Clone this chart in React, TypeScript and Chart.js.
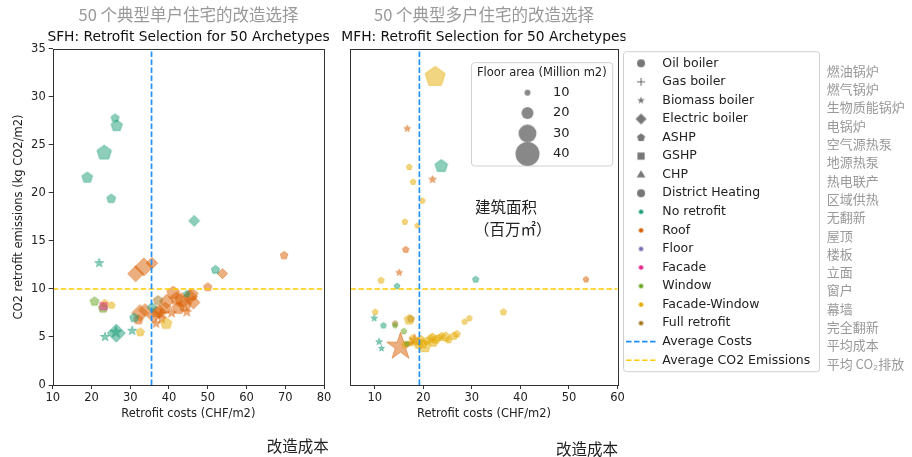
import React, { useEffect, useRef } from "react";
import { Chart, registerables } from "chart.js";

Chart.register(...registerables);

// ---------------- data ----------------
const heatingTypes = ["Oil boiler", "Gas boiler", "Biomass boiler", "Electric boiler", "ASHP", "GSHP", "CHP", "District Heating"];
const retrofitTypes = ["No retrofit", "Roof", "Floor", "Facade", "Window", "Facade-Window", "Full retrofit"];
const legendZh = ["燃油锅炉", "燃气锅炉", "生物质能锅炉", "电锅炉", "空气源热泵", "地源热泵", "热电联产", "区域供热", "无翻新", "屋顶", "楼板", "立面", "窗户", "幕墙", "完全翻新", "平均成本", "平均 CO₂排放"];
const sizeLegendValues = [10, 20, 30, 40];

// heating codes: OB Oil, GB Gas, BM Biomass, EB Electric, ASHP, GSHP, CHP, DH
// retrofit codes: N none, R roof, FL floor, F facade, W window, FW facade-window, FR full
const sfhCost = [26.1, 26.5, 23.3, 18.9, 25.1, 46.5, 22.0, 31.4, 33.5, 35.6, 52.0, 53.8, 69.7, 50.0, 20.8, 23.0, 25.2, 23.4, 23.1, 23.5, 26.4, 26.3, 30.5, 32.6, 39.3, 31.0, 32.5, 32.1, 35.6, 37.2, 36.7, 38.1, 36.0, 39.4, 41.1, 43.3, 45.4, 44.1, 42.4, 40.7, 33.8, 36.7, 44.6, 45.9, 44.6, 39.0, 42.0, 46.3, 38.2, 37.5];
const sfhCo2 = [27.8, 27.0, 24.2, 21.6, 19.4, 17.1, 12.7, 11.6, 12.3, 12.7, 12.0, 11.6, 13.5, 10.2, 8.7, 8.0, 8.3, 8.5, 8.2, 5.0, 5.4, 5.5, 5.65, 5.5, 6.4, 7.0, 7.5, 6.8, 8.1, 8.8, 7.6, 6.9, 7.2, 8.7, 9.6, 8.85, 9.2, 8.3, 8.0, 7.5, 7.8, 6.4, 7.6, 9.4, 9.5, 8.0, 9.0, 8.6, 7.4, 7.7];
const sfhArea = [13, 18, 23, 17, 14, 15, 12, 22, 25, 16, 13, 14, 12, 13, 14, 15, 11, 12, 14, 12, 25, 16, 12, 13, 18, 14, 23, 15, 14, 15, 17, 13, 19, 20, 20, 22, 20, 20, 19, 13, 18, 12, 13, 19, 10, 18, 20, 18, 14, 18];
const sfhHeating = ["ASHP", "ASHP", "ASHP", "ASHP", "ASHP", "EB", "BM", "EB", "EB", "EB", "ASHP", "EB", "ASHP", "ASHP", "ASHP", "ASHP", "ASHP", "ASHP", "GSHP", "BM", "EB", "BM", "BM", "ASHP", "ASHP", "ASHP", "EB", "ASHP", "EB", "ASHP", "ASHP", "BM", "EB", "EB", "ASHP", "ASHP", "EB", "ASHP", "ASHP", "BM", "EB", "BM", "BM", "ASHP", "ASHP", "ASHP", "ASHP", "EB", "BM", "EB"];
const sfhRetrofit = ["N", "N", "N", "N", "N", "N", "N", "R", "R", "R", "N", "R", "R", "R", "W", "W", "FW", "FW", "F", "N", "N", "N", "N", "FW", "FW", "N", "R", "R", "N", "FR", "R", "R", "R", "R", "R", "R", "R", "R", "R", "R", "R", "R", "R", "R", "N", "R", "R", "R", "R", "R"];

const mfhCost = [22.45, 16.7, 17.1, 23.7, 17.9, 21.9, 19.8, 16.2, 18.75, 16.4, 15.05, 11.3, 14.6, 30.8, 53.5, 36.5, 28.5, 29.5, 10.1, 9.9, 11.8, 14.2, 14.2, 17.1, 17.4, 16.0, 10.9, 11.4, 15.3, 18.2, 16.2, 17.5, 19.9, 20.3, 21.6, 22.6, 21.9, 24.6, 26.3, 23.2, 25.2, 18.8, 16.6, 19.0, 20.8, 23.8, 22.1, 26.9, 17.8, 19.5];
const mfhCo2 = [32.1, 26.7, 22.7, 22.8, 21.15, 21.4, 19.2, 17.0, 16.6, 14.1, 11.7, 10.9, 10.3, 11.0, 11.0, 7.6, 6.6, 6.95, 7.6, 6.95, 6.2, 6.4, 6.2, 6.8, 6.9, 5.6, 4.5, 3.8, 4.0, 4.7, 4.2, 4.4, 4.3, 4.0, 4.8, 4.7, 5.0, 5.0, 5.1, 4.9, 4.7, 4.5, 4.3, 4.2, 4.6, 5.1, 4.4, 5.3, 4.9, 4.8];
const mfhArea = [32, 9, 9, 20, 9, 10, 9, 9, 8, 10, 9, 10, 9, 10, 9, 10, 9, 9, 9, 9, 9, 9, 8, 16, 11, 9, 9, 8, 37, 15, 10, 11, 15, 19, 13, 13, 12, 15, 12, 11, 11, 13, 8, 14, 12, 11, 13, 11, 10, 11];
const mfhHeating = ["ASHP", "BM", "ASHP", "ASHP", "ASHP", "BM", "ASHP", "ASHP", "ASHP", "ASHP", "BM", "ASHP", "ASHP", "ASHP", "ASHP", "ASHP", "ASHP", "ASHP", "ASHP", "BM", "ASHP", "ASHP", "ASHP", "ASHP", "ASHP", "ASHP", "BM", "BM", "BM", "BM", "ASHP", "ASHP", "ASHP", "ASHP", "ASHP", "ASHP", "ASHP", "ASHP", "ASHP", "ASHP", "ASHP", "ASHP", "ASHP", "ASHP", "ASHP", "ASHP", "ASHP", "ASHP", "ASHP", "ASHP"];
const mfhRetrofit = ["FW", "R", "FW", "N", "FW", "R", "FW", "FW", "FW", "R", "R", "FW", "N", "N", "R", "FW", "FW", "FW", "FW", "N", "N", "FR", "W", "FW", "FR", "W", "N", "N", "R", "R", "FW", "FW", "FW", "FW", "FW", "FW", "FW", "FW", "FW", "FW", "FW", "FW", "W", "FW", "FW", "FW", "FW", "FW", "FW", "FW"];

const sfhAvgCost = 35.5;
const mfhAvgCost = 19.2;
const avgCo2 = 10;

const sfhXTicks = [10, 20, 30, 40, 50, 60, 70, 80];
const mfhXTicks = [10, 20, 30, 40, 50, 60];
const yTicks = [0, 5, 10, 15, 20, 25, 30, 35];

// ---------------- styling ----------------
const FONT = "'DejaVu Sans', sans-serif";
const CJK = "'Noto Sans CJK SC', sans-serif";

const HEAT_NAME: Record<string, string> = { OB: "Oil boiler", GB: "Gas boiler", BM: "Biomass boiler", EB: "Electric boiler", ASHP: "ASHP", GSHP: "GSHP", CHP: "CHP", DH: "District Heating" };
const RETRO_NAME: Record<string, string> = { N: "No retrofit", R: "Roof", FL: "Floor", F: "Facade", W: "Window", FW: "Facade-Window", FR: "Full retrofit" };
const HEAT_SHAPE: Record<string, string> = {
  "Oil boiler": "circle", "Gas boiler": "plus", "Biomass boiler": "star", "Electric boiler": "diamond",
  ASHP: "pentagon", GSHP: "square", CHP: "triangle", "District Heating": "circle",
};
const RETRO_RGB: Record<string, number[]> = {
  "No retrofit": [27, 158, 119], Roof: [217, 95, 2], Floor: [117, 112, 179], Facade: [231, 41, 138],
  Window: [102, 166, 30], "Facade-Window": [230, 171, 2], "Full retrofit": [166, 118, 29],
};
const SHAPE_SCALE: Record<string, number> = { circle: 1, plus: 1, star: 1.3, diamond: 1.2, pentagon: 1.1, square: 0.85, triangle: 1.1 };
const radiusFor = (area: number, shape: string) => 0.3 * area * SHAPE_SCALE[shape];
const rgba = (c: number[], a: number) => `rgba(${c[0]},${c[1]},${c[2]},${a})`;

const markerCache = new Map<string, HTMLCanvasElement>();
function makeMarker(shape: string, r: number, rgb: number[], fillA: number, strokeA: number, lw = 1, dx = 0): HTMLCanvasElement {
  const key = [shape, r.toFixed(2), rgb.join(","), fillA, strokeA, lw, dx].join("|");
  const hit = markerCache.get(key);
  if (hit) return hit;
  const pad = 2 + Math.ceil(Math.abs(dx));
  const size = Math.ceil(2 * r + 2 * pad);
  const c = document.createElement("canvas");
  c.width = size;
  c.height = size;
  const g = c.getContext("2d")!;
  const cx = size / 2 + dx;
  const cy = size / 2;
  g.beginPath();
  if (shape === "circle") {
    g.arc(cx, cy, r, 0, Math.PI * 2);
  } else if (shape === "pentagon") {
    for (let i = 0; i < 5; i++) {
      const a = -Math.PI / 2 + (i * 2 * Math.PI) / 5;
      const px = cx + r * Math.cos(a), py = cy + r * Math.sin(a);
      if (i === 0) g.moveTo(px, py); else g.lineTo(px, py);
    }
    g.closePath();
  } else if (shape === "star") {
    for (let i = 0; i < 10; i++) {
      const a = -Math.PI / 2 + (i * Math.PI) / 5;
      const rr = i % 2 ? r * 0.382 : r;
      const px = cx + rr * Math.cos(a), py = cy + rr * Math.sin(a);
      if (i === 0) g.moveTo(px, py); else g.lineTo(px, py);
    }
    g.closePath();
  } else if (shape === "diamond") {
    g.moveTo(cx, cy - r); g.lineTo(cx + r, cy); g.lineTo(cx, cy + r); g.lineTo(cx - r, cy); g.closePath();
  } else if (shape === "square") {
    g.rect(cx - r, cy - r, 2 * r, 2 * r);
  } else if (shape === "triangle") {
    g.moveTo(cx, cy - r); g.lineTo(cx + r * 0.95, cy + r * 0.6); g.lineTo(cx - r * 0.95, cy + r * 0.6); g.closePath();
  } else if (shape === "plus") {
    g.moveTo(cx - r, cy); g.lineTo(cx + r, cy); g.moveTo(cx, cy - r); g.lineTo(cx, cy + r);
  }
  if (shape !== "plus" && fillA > 0) {
    g.fillStyle = rgba(rgb, fillA);
    g.fill();
  }
  if (strokeA > 0 && lw > 0) {
    g.strokeStyle = rgba(rgb, strokeA);
    g.lineWidth = lw;
    g.stroke();
  }
  markerCache.set(key, c);
  return c;
}

const DRAW_ORDER = ["No retrofit", "Facade", "Window", "Facade-Window", "Full retrofit", "Floor", "Roof"];

function buildPoints(cost: number[], co2: number[], area: number[], heat: string[], retro: string[]) {
  return DRAW_ORDER.map((t) => {
    const data = cost
      .map((c, i) => ({ x: c, y: co2[i], a: area[i], h: HEAT_NAME[heat[i]], t: RETRO_NAME[retro[i]] }))
      .filter((p) => p.t === t);
    const rgb = RETRO_RGB[t];
    return {
      type: "scatter",
      label: t,
      data,
      backgroundColor: rgba(rgb, 0.5),
      borderColor: rgba(rgb, 0.55),
      pointStyle: (ctx: any) => {
        const p = ctx.raw;
        if (!p) return "circle";
        const s = HEAT_SHAPE[p.h];
        return makeMarker(s, radiusFor(p.a, s), rgb, 0.5, 0.5, 1);
      },
      pointRadius: (ctx: any) => {
        const p = ctx.raw;
        if (!p) return 3;
        return radiusFor(p.a, HEAT_SHAPE[p.h]);
      },
    };
  }).filter((d) => d.data.length > 0);
}

const framePlugin = {
  id: "frame",
  afterDatasetsDraw(chart: any) {
    const { ctx, chartArea } = chart;
    const l = Math.round(chartArea.left) + 0.5;
    const t = Math.round(chartArea.top) + 0.5;
    const r = Math.round(chartArea.right) + 0.5;
    const b = Math.round(chartArea.bottom) + 0.5;
    ctx.save();
    ctx.strokeStyle = "#333";
    ctx.lineWidth = 1;
    ctx.strokeRect(l, t, r - l, b - t);
    ctx.restore();
  },
};

function roundRect(ctx: CanvasRenderingContext2D, x: number, y: number, w: number, h: number, rad: number) {
  ctx.beginPath();
  ctx.moveTo(x + rad, y);
  ctx.lineTo(x + w - rad, y);
  ctx.quadraticCurveTo(x + w, y, x + w, y + rad);
  ctx.lineTo(x + w, y + h - rad);
  ctx.quadraticCurveTo(x + w, y + h, x + w - rad, y + h);
  ctx.lineTo(x + rad, y + h);
  ctx.quadraticCurveTo(x, y + h, x, y + h - rad);
  ctx.lineTo(x, y + rad);
  ctx.quadraticCurveTo(x, y, x + rad, y);
  ctx.closePath();
}

function boxPlugin(x: number, y: number, w: number, h: number, extra?: (ctx: CanvasRenderingContext2D) => void, post?: (ctx: CanvasRenderingContext2D) => void) {
  return {
    id: "legendFrame",
    beforeDraw(chart: any) {
      const ctx = chart.ctx;
      ctx.save();
      if (extra) extra(ctx);
      roundRect(ctx, x, y, w, h, 3);
      ctx.fillStyle = "rgba(255,255,255,0.85)";
      ctx.fill();
      ctx.strokeStyle = "#d0d0d0";
      ctx.lineWidth = 1;
      ctx.stroke();
      ctx.restore();
    },
    afterDraw(chart: any) {
      if (!post) return;
      const ctx = chart.ctx;
      ctx.save();
      post(ctx);
      ctx.restore();
    },
  };
}

const tickFont = { family: FONT, size: 11.5 };

function panelConfig(p: {
  cost: number[]; co2: number[]; area: number[]; heat: string[]; retro: string[];
  avgCost: number; xMin: number; xMax: number; xTicks: number[];
  zh: string; en: string; leftW: number; rightW: number; showY: boolean;
}) {
  const lines = [
    {
      type: "scatter", label: "Average Costs", showLine: true, pointRadius: 0,
      borderColor: "#1e90ff", borderWidth: 1.7, borderDash: [5.5, 2.5],
      data: [{ x: p.avgCost, y: 0 }, { x: p.avgCost, y: 35 }],
    },
    {
      type: "scatter", label: "Average CO2 Emissions", showLine: true, pointRadius: 0,
      borderColor: "#ffcc00", borderWidth: 1.7, borderDash: [5.5, 2.5],
      data: [{ x: p.xMin, y: avgCo2 }, { x: p.xMax, y: avgCo2 }],
    },
  ];
  return {
    type: "scatter",
    data: { datasets: [...lines, ...buildPoints(p.cost, p.co2, p.area, p.heat, p.retro)] },
    options: {
      responsive: false,
      animation: false,
      devicePixelRatio: 1,
      layout: { padding: { left: 0, right: 0, top: 0, bottom: 32 } },
      scales: {
        x: {
          type: "linear", min: p.xMin, max: p.xMax,
          afterBuildTicks: (s: any) => { s.ticks = p.xTicks.map((v) => ({ value: v })); },
          afterFit: (s: any) => { s.height = 40; },
          ticks: { font: tickFont, color: "#222", padding: 2, maxRotation: 0, autoSkip: false },
          grid: { display: true, drawOnChartArea: false, drawTicks: true, tickLength: 4, color: "#333" },
          border: { display: false },
          title: { display: true, text: "Retrofit costs (CHF/m2)", color: "#222", font: { family: FONT, size: 11.5, lineHeight: 1.2 }, padding: { top: 0, bottom: 4 } },
        },
        y: {
          type: "linear", min: 0, max: 35, position: "left",
          afterBuildTicks: (s: any) => { s.ticks = yTicks.map((v) => ({ value: v })); },
          afterFit: (s: any) => { s.width = p.leftW; },
          ticks: { display: p.showY, font: tickFont, color: "#222", padding: 3 },
          grid: { display: p.showY, drawOnChartArea: false, drawTicks: true, tickLength: 4, color: "#333" },
          border: { display: false },
          title: { display: p.showY, text: "CO2 retrofit emissions (kg CO2/m2)", color: "#222", font: { family: FONT, size: 11.5, lineHeight: 1.2 }, padding: { top: 12, bottom: 0 } },
        },
        y2: {
          type: "linear", position: "right", display: true,
          afterFit: (s: any) => { s.width = p.rightW; },
          ticks: { display: false },
          grid: { display: false },
          border: { display: false },
        },
      },
      plugins: {
        legend: { display: false },
        tooltip: { enabled: false },
        title: {
          display: true, text: p.zh, color: "#999",
          font: { family: CJK, size: 16.5, weight: "normal", lineHeight: 1.2 },
          padding: { top: 5.1, bottom: 0 },
        },
        subtitle: {
          display: true, text: p.en, color: "#111",
          font: { family: FONT, size: 13.8, weight: "normal", lineHeight: 1.2 },
          padding: { top: 4.1, bottom: 3.4 },
        },
      },
    },
    plugins: [framePlugin],
  };
}

const GRAY = [85, 85, 85];
function mainLegendItems() {
  const heatR: Record<string, number> = { circle: 4, plus: 4, star: 4, diamond: 5.5, pentagon: 4.2, square: 3.6, triangle: 4.6 };
  const items: any[] = heatingTypes.map((h) => {
    const s = HEAT_SHAPE[h];
    return {
      text: h, fontColor: "#222", hidden: false, lineWidth: 1,
      fillStyle: rgba(GRAY, 0.8), strokeStyle: rgba(GRAY, 0.8),
      pointStyle: makeMarker(s, heatR[s], GRAY, s === "plus" ? 0 : 0.8, s === "plus" ? 0.9 : 0, 1),
    };
  });
  retrofitTypes.forEach((t) => {
    items.push({
      text: t, fontColor: "#222", hidden: false, lineWidth: 0,
      fillStyle: rgba(RETRO_RGB[t], 1), strokeStyle: rgba(RETRO_RGB[t], 1),
      pointStyle: makeMarker("circle", 2.3, RETRO_RGB[t], 1, 0, 0),
    });
  });
  items.push({ text: "Average Costs", fontColor: "#222", hidden: false, pointStyle: "line", lineWidth: 1.7, strokeStyle: "#1e90ff", fillStyle: "#1e90ff", lineDash: [5.5, 2.5] });
  items.push({ text: "Average CO2 Emissions", fontColor: "#222", hidden: false, pointStyle: "line", lineWidth: 1.7, strokeStyle: "#ffcc00", fillStyle: "#ffcc00", lineDash: [5.5, 2.5] });
  return items;
}

function sizeLegendItems() {
  return sizeLegendValues.map((v) => ({
    text: String(v), fontColor: "#222", hidden: false, lineWidth: 0,
    fillStyle: "#888", strokeStyle: "#888",
    pointStyle: makeMarker("circle", radiusFor(v, "circle"), [136, 136, 136], 1, 0, 0, -1.6),
  }));
}

const SIZE_LEGEND_TITLE = "Floor area (Million m2)";

export default function App() {
  const sfhRef = useRef<HTMLCanvasElement>(null);
  const mfhRef = useRef<HTMLCanvasElement>(null);
  const sizeRef = useRef<HTMLCanvasElement>(null);
  const legRef = useRef<HTMLCanvasElement>(null);

  useEffect(() => {
    const charts: Chart[] = [];
    charts.push(new Chart(sfhRef.current as any, panelConfig({
      cost: sfhCost, co2: sfhCo2, area: sfhArea, heat: sfhHeating, retro: sfhRetrofit,
      avgCost: sfhAvgCost, xMin: 10, xMax: 80, xTicks: sfhXTicks,
      zh: "50 个典型单户住宅的改造选择", en: "SFH: Retrofit Selection for 50 Archetypes",
      leftW: 52.7, rightW: 53, showY: true,
    }) as any));
    charts.push(new Chart(mfhRef.current as any, panelConfig({
      cost: mfhCost, co2: mfhCo2, area: mfhArea, heat: mfhHeating, retro: mfhRetrofit,
      avgCost: mfhAvgCost, xMin: 5, xMax: 60, xTicks: mfhXTicks,
      zh: "50 个典型多户住宅的改造选择", en: "MFH: Retrofit Selection for 50 Archetypes",
      leftW: 13, rightW: 13, showY: false,
    }) as any));
    charts.push(new Chart(sizeRef.current as any, {
      type: "scatter",
      data: { datasets: [] },
      options: {
        responsive: false, animation: false, devicePixelRatio: 1,
        layout: { padding: { left: 34.2, top: 78.75, right: 0, bottom: 0 } },
        scales: { x: { display: false }, y: { display: false } },
        plugins: {
          tooltip: { enabled: false },
          legend: {
            display: true, position: "left", align: "start",
            title: { display: false },
            labels: { usePointStyle: true, pointStyleWidth: 35, padding: 7.4, color: "#222", font: { family: FONT, size: 13 }, generateLabels: () => sizeLegendItems() },
          },
        },
      },
      plugins: [boxPlugin(1.5, 62.7, 141.2, 103.3, undefined, (ctx) => {
        ctx.font = `11.5px ${FONT}`;
        ctx.fillStyle = "#222";
        ctx.textAlign = "center";
        ctx.textBaseline = "middle";
        ctx.fillText(SIZE_LEGEND_TITLE, 71.8, 73.5);
      })],
    } as any));
    charts.push(new Chart(legRef.current as any, {
      type: "scatter",
      data: { datasets: [] },
      options: {
        responsive: false, animation: false, devicePixelRatio: 1,
        layout: { padding: { left: 0, top: 51, right: 0, bottom: 0 } },
        scales: { x: { display: false }, y: { display: false } },
        plugins: {
          tooltip: { enabled: false },
          legend: {
            display: true, position: "left", align: "start",
            labels: { usePointStyle: true, pointStyleWidth: 30, padding: 6.06, color: "#222", font: { family: FONT, size: 12.5 }, generateLabels: () => mainLegendItems() },
          },
        },
      },
      plugins: [boxPlugin(3.5, 51.7, 196, 320, (ctx) => {
        ctx.fillStyle = "#fff";
        ctx.fillRect(5.5, 0, 455, 51);
      })],
    } as any));
    return () => charts.forEach((c) => c.destroy());
  }, []);

  const abs = (left: number, top: number, w: number, h: number): React.CSSProperties => ({ position: "absolute", left, top, width: w, height: h });
  const zhText = (left: number, centerY: number, size: number, color: string): React.CSSProperties => ({
    position: "absolute", left, top: centerY - size * 0.55, fontFamily: CJK, fontSize: size, lineHeight: 1.1, color, whiteSpace: "nowrap",
  });

  return (
    <div style={{ position: "absolute", left: 0, top: 0, width: 912, height: 457, overflow: "hidden", background: "#fff" }}>
      <canvas ref={sfhRef} width={377} height={457} style={abs(0, 0, 377, 457)} />
      <canvas ref={mfhRef} width={298} height={457} style={abs(335, 0, 298, 457)} />
      <canvas ref={sizeRef} width={200} height={200} style={abs(470, 0, 200, 200)} />
      <canvas ref={legRef} width={460} height={457} style={abs(620, 0, 460, 457)} />
      {legendZh.map((t, i) => (
        <div key={t} style={zhText(826.7, 71 + i * 18.3, 13, "#999")}>{t}</div>
      ))}
      <div style={zhText(266.7, 445.5, 15.5, "#222")}>改造成本</div>
      <div style={zhText(556, 449, 15.5, "#222")}>改造成本</div>
      <div style={zhText(475, 206.5, 15.5, "#222")}>建筑面积</div>
      <div style={zhText(474, 229, 15.5, "#222")}>（百万㎡）</div>
    </div>
  );
}
